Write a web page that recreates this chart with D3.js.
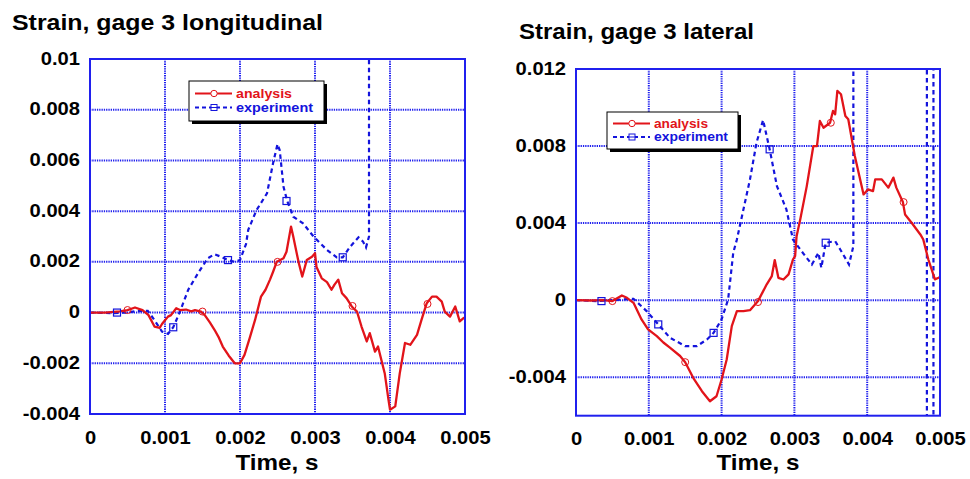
<!DOCTYPE html>
<html>
<head>
<meta charset="utf-8">
<script src="https://cdn.jsdelivr.net/npm/d3@7"></script>
<style>
  body { margin: 0; background: #fff; }
  svg { display: block; font-family: "Liberation Sans", Arial, sans-serif; font-weight: bold; }
</style>
</head>
<body>
<svg id="chart" width="970" height="479"></svg>
<script>
// ---- data (time in s, strain) ----
const timeTicks = [0, 0.001, 0.002, 0.003, 0.004, 0.005];
const longTicks = [-0.004, -0.002, 0, 0.002, 0.004, 0.006, 0.008, 0.01];
const latTicks = [-0.004, 0, 0.004, 0.008, 0.012];
const seriesNames = ["analysis", "experiment"];

const longAnalysis = [[0,0],[0.0002,0],[0.0004,0.00005],[0.0005,0.0001],[0.0006,0.0002],[0.0007,0.0001],[0.00078,-0.0001],
  [0.00086,-0.00055],[0.00093,-0.0006],[0.00096,-0.00045],[0.001,-0.0003],[0.00104,-0.00016],[0.00108,-0.0001],[0.00115,0.00017],
  [0.0012,0.0001],[0.00128,0.00012],[0.00135,0.00005],[0.0014,0.0001],[0.00148,0.00004],[0.00153,-0.0001],[0.0016,-0.0004],
  [0.00166,-0.00068],[0.00172,-0.001],[0.00177,-0.00134],[0.00185,-0.0017],[0.00193,-0.002],[0.002,-0.002],[0.00206,-0.00167],
  [0.00213,-0.001],[0.0022,-0.0003],[0.00228,0.00063],[0.00234,0.0009],[0.0024,0.0013],[0.00244,0.0016],[0.00249,0.002],
  [0.00258,0.00214],[0.00262,0.0024],[0.00268,0.00339],[0.00271,0.003],[0.00278,0.002],[0.00283,0.00142],[0.00289,0.00207],
  [0.00296,0.0022],[0.003,0.00234],[0.00302,0.0018],[0.00309,0.00135],[0.00316,0.0012],[0.00322,0.0009],[0.00326,0.0011],
  [0.00331,0.0013],[0.00336,0.00076],[0.00342,0.00057],[0.00349,0.00024],[0.00356,0.00004],[0.00362,-0.00055],[0.00369,-0.00114],
  [0.00373,-0.00081],[0.0038,-0.00154],[0.00384,-0.00134],[0.00393,-0.0024],[0.00398,-0.00344],[0.004,-0.00383],[0.00407,-0.0037],
  [0.00413,-0.0024],[0.0042,-0.0012],[0.00427,-0.00127],[0.00436,-0.00088],[0.00442,-0.00029],[0.00449,0.00037],[0.00456,0.00063],
  [0.00462,0.00063],[0.00469,0.00043],[0.00473,0.00004],[0.0048,-0.00016],[0.00487,0.00024],[0.00493,-0.00035],[0.00498,-0.00022],[0.005,-0.0002]];
const longAnalysisMarks = [[0.0005,0.0001],[0.0015,0.00004],[0.0025,0.002],[0.0035,0.00026],[0.0045,0.00034]];

const longExperiment = [[0,0],[0.0003,-0.00002],[0.0005,0],[0.0006,0.00005],[0.00077,0.00007],[0.00086,-0.0003],[0.00096,-0.00075],
  [0.00104,-0.00084],[0.00111,-0.00058],[0.0012,0.00004],[0.00131,0.0009],[0.00144,0.00155],[0.00157,0.00214],[0.00166,0.0023],
  [0.00175,0.0022],[0.00184,0.00207],[0.00193,0.002],[0.002,0.00207],[0.00208,0.0027],[0.00211,0.00326],[0.00222,0.00404],
  [0.00236,0.0047],[0.00244,0.00588],[0.0025,0.00664],[0.00253,0.0064],[0.00258,0.00496],[0.00263,0.0044],[0.00271,0.00378],
  [0.00284,0.00352],[0.00298,0.003],[0.00316,0.00247],[0.00329,0.00218],[0.00337,0.00218],[0.00347,0.0026],[0.00358,0.00297],
  [0.00364,0.0028],[0.00368,0.00257],[0.00372,0.003],[0.00372,0.011]];
const longExperimentMarks = [[0.00036,0],[0.00111,-0.00058],[0.00184,0.00207],[0.00262,0.0044],[0.00337,0.00218]];

const latAnalysis = [[0,0],[0.0002,-0.00002],[0.00038,0],[0.0005,-0.00005],[0.00063,0.00024],[0.0007,0.00012],[0.00079,-0.00014],
  [0.0009,-0.001],[0.00099,-0.00152],[0.00111,-0.00187],[0.0012,-0.0022],[0.00129,-0.00247],[0.00143,-0.0029],[0.0015,-0.00322],
  [0.00161,-0.00403],[0.00173,-0.00473],[0.00184,-0.00525],[0.00193,-0.00499],[0.002,-0.00412],[0.00207,-0.00308],[0.00214,-0.00135],
  [0.00221,-0.00057],[0.0023,-0.00057],[0.00239,-0.00052],[0.00248,-0.00014],[0.0025,-0.00005],[0.00262,0.00082],[0.00269,0.00125],
  [0.00273,0.00208],[0.00278,0.00116],[0.00285,0.00107],[0.00292,0.00134],[0.00298,0.00211],[0.00301,0.00229],[0.00303,0.00332],
  [0.00308,0.00419],[0.00317,0.00592],[0.00326,0.008],[0.00331,0.008],[0.00335,0.0093],[0.0034,0.00895],[0.00349,0.00921],
  [0.00353,0.00982],[0.00356,0.00965],[0.00359,0.01086],[0.00364,0.01069],[0.0037,0.00956],[0.00374,0.00939],[0.00383,0.00748],
  [0.00395,0.00549],[0.00401,0.00575],[0.00408,0.00566],[0.00411,0.00627],[0.0042,0.00627],[0.00429,0.00584],[0.00436,0.00636],
  [0.0044,0.00584],[0.00449,0.00509],[0.00452,0.00445],[0.00461,0.00402],[0.00473,0.00341],[0.00477,0.00315],[0.00484,0.00211],
  [0.00493,0.00108],[0.00498,0.00116],[0.005,0.0012]];
const latAnalysisMarks = [[0.0005,-0.00005],[0.0015,-0.00322],[0.0025,-0.0001],[0.0035,0.00921],[0.0045,0.00509]];

const latExperiment = [[0,0],[0.0003,-0.00005],[0.0005,0],[0.0007,0.00005],[0.00079,0.00007],[0.00097,-0.00057],[0.00113,-0.00126],
  [0.00129,-0.00195],[0.0015,-0.00239],[0.00166,-0.00239],[0.0018,-0.00204],[0.00189,-0.0017],[0.002,-0.001],[0.00209,0.00004],
  [0.00216,0.00246],[0.00221,0.00315],[0.00239,0.00627],[0.00248,0.00818],[0.00257,0.00935],[0.00266,0.00783],[0.00276,0.00592],
  [0.00289,0.00471],[0.00296,0.0035],[0.00298,0.00315],[0.00308,0.00263],[0.00324,0.00185],[0.00333,0.00246],[0.00337,0.00168],
  [0.00343,0.00298],[0.00356,0.00306],[0.00363,0.00263],[0.00375,0.00185],[0.00381,0.0028],[0.00381,0.013],[0.00482,0.013],
  [0.00482,-0.007],[0.00491,-0.007],[0.00491,0.013]];
const latExperimentMarks = [[0.00035,-0.00005],[0.00113,-0.00126],[0.00189,-0.0017],[0.00266,0.00783],[0.00343,0.00298]];

const RED = "#e2141a", BLUE = "#1414dc", GRID = "#2020ee";

const svg = d3.select("#chart");

// stretch text horizontally (the source fonts are a bit wider than Liberation Sans)
function widen(sel, k) {
  sel.each(function() {
    let w = this.getComputedTextLength();
    d3.select(this).attr("textLength", w * k).attr("lengthAdjust", "spacingAndGlyphs");
  });
}
let fmt = v => String(+v.toFixed(4));

function drawPanel(p) {
  let x = d3.scaleLinear().domain([0, 0.005]).range([p.left, p.right]);
  let y = d3.scaleLinear().domain(p.yDomain).range([p.bottom, p.top]);
  let g = svg.append("g");

  // title
  g.append("text").attr("x", p.titleX).attr("y", p.titleY)
    .attr("font-size", 22).text(p.title)
    .attr("textLength", p.titleW).attr("lengthAdjust", "spacingAndGlyphs");

  // grid
  g.append("g").selectAll("line").data(timeTicks.slice(1, -1)).join("line")
    .attr("x1", d => x(d)).attr("x2", d => x(d)).attr("y1", p.top).attr("y2", p.bottom)
    .attr("stroke", GRID).attr("stroke-width", 2).attr("stroke-dasharray", "1.3,1");
  g.append("g").selectAll("line").data(p.grid).join("line")
    .attr("y1", d => y(d)).attr("y2", d => y(d)).attr("x1", p.left).attr("x2", p.right)
    .attr("stroke", GRID).attr("stroke-width", 2).attr("stroke-dasharray", "1.3,1");

  // tick labels through d3 axes
  let xa = g.append("g").attr("transform", `translate(0,${p.bottom})`)
    .call(d3.axisBottom(x).tickValues(timeTicks).tickSize(0).tickPadding(17).tickFormat(fmt));
  xa.select(".domain").remove();
  xa.selectAll("text").attr("font-size", 18).attr("font-family", null).attr("fill", "#000").call(widen, 1.12);

  let ya = g.append("g").attr("transform", `translate(${p.left},0)`)
    .call(d3.axisLeft(y).tickValues(p.ticks).tickSize(0).tickPadding(10).tickFormat(fmt));
  ya.select(".domain").remove();
  ya.selectAll("text").attr("font-size", 18).attr("font-family", null).attr("fill", "#000")
    .attr("dy", "0.28em").call(widen, 1.12);

  g.append("text").attr("x", p.xLabelX).attr("y", 470).attr("text-anchor", "middle")
    .attr("font-size", 22).text("Time, s").call(widen, 1.1);

  // clipped data
  let clipId = "clip" + p.id;
  svg.append("clipPath").attr("id", clipId).append("rect")
    .attr("x", p.left).attr("y", p.top).attr("width", p.right - p.left).attr("height", p.bottom - p.top);
  let line = d3.line().x(d => x(d[0])).y(d => y(d[1]));
  let plot = g.append("g").attr("clip-path", `url(#${clipId})`);

  plot.append("path").datum(p.experiment).attr("d", line).attr("fill", "none")
    .attr("stroke", BLUE).attr("stroke-width", 2.2).attr("stroke-dasharray", "4.5,3.5");
  plot.append("path").datum(p.analysis).attr("d", line).attr("fill", "none")
    .attr("stroke", RED).attr("stroke-width", 2.3).attr("stroke-linejoin", "round");

  plot.selectAll("rect.mk").data(p.experimentMarks).join("rect")
    .attr("x", d => x(d[0]) - 3.5).attr("y", d => y(d[1]) - 3.5).attr("width", 7).attr("height", 7)
    .attr("fill", "none").attr("stroke", BLUE).attr("stroke-width", 1.2);
  plot.selectAll("circle.mk").data(p.analysisMarks).join("circle")
    .attr("cx", d => x(d[0])).attr("cy", d => y(d[1])).attr("r", 3.5)
    .attr("fill", "none").attr("stroke", RED).attr("stroke-width", 1);

  // frame
  g.append("rect").attr("x", p.left).attr("y", p.top)
    .attr("width", p.right - p.left).attr("height", p.bottom - p.top)
    .attr("fill", "none").attr("stroke", GRID).attr("stroke-width", 2);

  // legend
  let L = p.legend;
  let lg = g.append("g").attr("transform", `translate(${L.x},${L.y})`);
  lg.append("rect").attr("x", 3).attr("y", 3).attr("width", L.w).attr("height", L.h).attr("fill", "#000");
  lg.append("rect").attr("width", L.w).attr("height", L.h).attr("fill", "#fff").attr("stroke", "#000").attr("stroke-width", 1);
  seriesNames.forEach((name, i) => {
    let cy = L.row[i];
    let col = i === 0 ? RED : BLUE;
    lg.append("line").attr("x1", 6).attr("x2", 43).attr("y1", cy).attr("y2", cy)
      .attr("stroke", col).attr("stroke-width", 2).attr("stroke-dasharray", i === 0 ? null : "4,3");
    if (i === 0) {
      lg.append("circle").attr("cx", 25).attr("cy", cy).attr("r", 3.2)
        .attr("fill", "#fff").attr("stroke", col).attr("stroke-width", 1);
    } else {
      lg.append("rect").attr("x", 22).attr("y", cy - 3).attr("width", 6).attr("height", 6)
        .attr("fill", "#fff").attr("stroke", col).attr("stroke-width", 1);
      lg.append("line").attr("x1", 22).attr("x2", 28).attr("y1", cy).attr("y2", cy)
        .attr("stroke", col).attr("stroke-width", 1);
    }
    lg.append("text").attr("x", 47).attr("y", cy + L.fs * 0.33).attr("font-size", L.fs)
      .attr("fill", col).text(name)
      .attr("textLength", L.tw[i]).attr("lengthAdjust", "spacingAndGlyphs");
  });
}

drawPanel({
  id: "L", title: "Strain, gage 3 longitudinal", titleX: 12, titleY: 30, titleW: 311,
  left: 90, right: 465, top: 59, bottom: 414, yDomain: [-0.004, 0.01],
  ticks: longTicks, grid: longTicks.slice(1, -1), xLabelX: 277,
  analysis: longAnalysis, experiment: longExperiment,
  analysisMarks: longAnalysisMarks, experimentMarks: longExperimentMarks,
  legend: { x: 189, y: 81, w: 135, h: 40, row: [12.5, 26.5], tw: [56, 77], fs: 13.5 }
});
drawPanel({
  id: "R", title: "Strain, gage 3 lateral", titleX: 519, titleY: 39, titleW: 235,
  left: 576, right: 940, top: 69, bottom: 415.7, yDomain: [-0.006, 0.012],
  ticks: latTicks, grid: [-0.004, 0, 0.004, 0.008], xLabelX: 758,
  analysis: latAnalysis, experiment: latExperiment,
  analysisMarks: latAnalysisMarks, experimentMarks: latExperimentMarks,
  legend: { x: 607, y: 112, w: 131, h: 37, row: [11.5, 25], tw: [54, 74], fs: 12.5 }
});
</script>
</body>
</html>
